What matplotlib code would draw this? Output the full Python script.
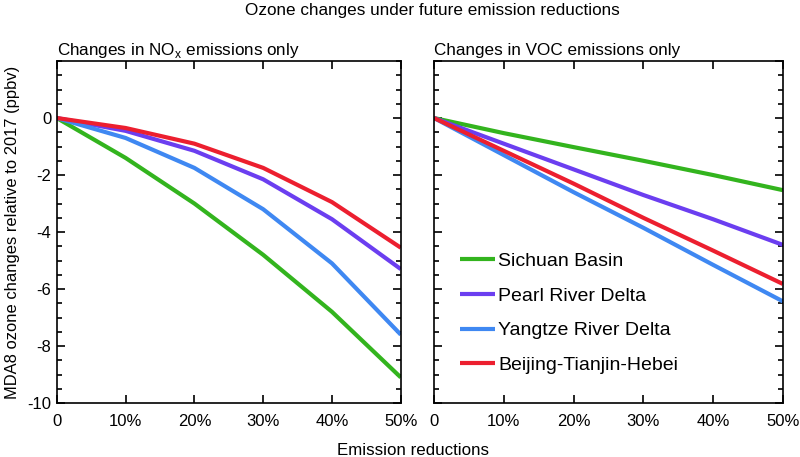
import matplotlib.pyplot as plt
import numpy as np
from matplotlib.ticker import MultipleLocator

plt.rcParams['font.family'] = ['Liberation Sans', 'DejaVu Sans']

# DATA
reductions = [0, 10, 20, 30, 40, 50]
x_labels = ['0', '10%', '20%', '30%', '40%', '50%']
regions = ['Sichuan Basin', 'Pearl River Delta', 'Yangtze River Delta', 'Beijing-Tianjin-Hebei']
colors = ['#33b41e', '#6b3ef0', '#3f88f2', '#ec1f2f']

nox_sichuan = [0, -1.40, -3.0, -4.8, -6.8, -9.1]
nox_pearl = [0, -0.45, -1.15, -2.15, -3.55, -5.3]
nox_yangtze = [0, -0.7, -1.75, -3.2, -5.1, -7.6]
nox_bth = [0, -0.35, -0.9, -1.75, -2.95, -4.55]

voc_sichuan = [0, -0.53, -1.02, -1.5, -2.0, -2.53]
voc_pearl = [0, -0.9, -1.8, -2.7, -3.55, -4.45]
voc_yangtze = [0, -1.3, -2.6, -3.85, -5.15, -6.43]
voc_bth = [0, -1.15, -2.3, -3.5, -4.65, -5.82]

nox = [nox_sichuan, nox_pearl, nox_yangtze, nox_bth]
voc = [voc_sichuan, voc_pearl, voc_yangtze, voc_bth]

fig = plt.figure(figsize=(8, 4.57), dpi=100)
ax1 = fig.add_axes([0.071, 0.118, 0.43, 0.7485])
ax2 = fig.add_axes([0.5425, 0.118, 0.436, 0.7485])

for ax, series, title in [(ax1, nox, 'Changes in NO$_\\mathregular{x}$ emissions only'),
                          (ax2, voc, 'Changes in VOC emissions only')]:
    for vals, name, c in zip(series, regions, colors):
        ax.plot(reductions, vals, color=c, lw=3, label=name, solid_capstyle='butt')
    ax.set_xlim(0, 50)
    ax.set_ylim(-10, 2)
    ax.set_xticks(reductions)
    ax.set_xticklabels(x_labels)
    ax.yaxis.set_major_locator(MultipleLocator(2))
    ax.yaxis.set_minor_locator(MultipleLocator(0.5))
    ax.tick_params(which='both', direction='in', top=True, right=True, labelsize=12, width=1.2)
    ax.tick_params(which='major', length=6)
    ax.tick_params(which='minor', length=3.5)
    ax.tick_params(axis='x', pad=8)
    for s in ax.spines.values():
        s.set_linewidth(1.2)
    ax.set_title(title, loc='left', fontsize=12.3, pad=4, x=0.0)

ax1.set_yticks([0, -2, -4, -6, -8, -10])
ax1.set_yticklabels(['0', '-2', '-4', '-6', '-8', '-10'])
ax1.tick_params(axis='y', pad=4)
ax2.tick_params(axis='y', labelleft=False)
ax1.set_ylabel('MDA8 ozone changes relative to 2017 (ppbv)', fontsize=11.9, labelpad=5)

ax2.legend(loc='lower left', bbox_to_anchor=(0.053, 0.062), frameon=False, fontsize=14,
           handlelength=1.8, handletextpad=0.15, labelspacing=0.88, borderaxespad=0)

fig.text(0.54, 0.978, 'Ozone changes under future emission reductions', ha='center', va='center', fontsize=12.3)
fig.text(0.516, 0.0153, 'Emission reductions', ha='center', va='center', fontsize=12.2)

fig.savefig('out.png', dpi=100)
